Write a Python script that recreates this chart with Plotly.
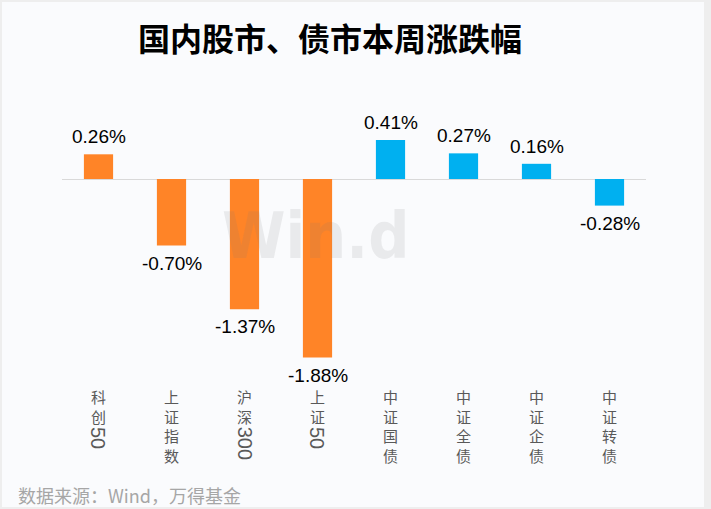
import plotly.graph_objects as go

categories = ["科创50", "上证指数", "沪深300", "上证50", "中证国债", "中证全债", "中证企债", "中证转债"]
values = [0.26, -0.70, -1.37, -1.88, 0.41, 0.27, 0.16, -0.28]
colors = ["#FF8427"] * 4 + ["#00B0F0"] * 4
title_text = "国内股市、债市本周涨跌幅"
source_text = "数据来源：Wind，万得基金"

W, H = 711, 509
L, R, T, B = 62, 65, 122, 140
PW, PH = W - L - R, H - T - B


def px2x(px):
    return (px - L) / PW


def py2y(py):
    return (H - B - py) / PH


fig = go.Figure()
fig.add_trace(go.Bar(
    x=categories, y=values, marker=dict(color=colors, line=dict(width=0)),
    width=0.4, hoverinfo="skip"))

ann = []
# value labels
for c, v in zip(categories, values):
    ann.append(dict(
        x=c, y=v, xref="x", yref="y", text=f"{v:.2f}%", showarrow=False,
        yanchor="bottom" if v >= 0 else "top", yshift=5 if v >= 0 else -5,
        font=dict(family="Liberation Sans, Arial", size=19, color="#000000")))

# vertical tick labels: stacked CJK characters, digits rotated below
fs = 15
line_h = 1.3 * fs
top0 = 386
for c in categories:
    cjk = "".join(ch for ch in c if not ch.isdigit())
    digits = "".join(ch for ch in c if ch.isdigit())
    ann.append(dict(x=c, xref="x", y=py2y(top0 - 2), yref="paper", text="<br>".join(cjk),
                    showarrow=False, yanchor="top", xanchor="center",
                    font=dict(family="Noto Sans CJK SC", size=fs, color="#595959")))
    if digits:
        start = top0 + len(cjk) * line_h + 1
        length = len(digits) * 11.5
        cy = start + length / 2
        ann.append(dict(x=c, xref="x", y=py2y(cy), yref="paper", text=digits, showarrow=False,
                        textangle=90, yanchor="middle", xanchor="center",
                        font=dict(family="Liberation Sans, Arial", size=20, color="#595959")))

# title
ann.append(dict(x=px2x(330), y=py2y(37), xref="paper", yref="paper", text=f"<b>{title_text}</b>",
                showarrow=False, xanchor="center", yanchor="middle",
                font=dict(family="Noto Sans CJK SC", size=32, color="#000000")))
# source
ann.append(dict(x=px2x(16), y=py2y(495), xref="paper", yref="paper", text=source_text,
                showarrow=False, xanchor="left", yanchor="middle",
                font=dict(family="Noto Sans CJK SC", size=18, color="#A6A6A6")))
# watermark
ann.append(dict(x=px2x(315), y=py2y(236), xref="paper", yref="paper", text="<b>Win.d</b>",
                showarrow=False, xanchor="center", yanchor="middle",
                font=dict(family="DejaVu Sans Condensed, Liberation Sans", size=64,
                          color="rgba(120,120,120,0.13)")))

fig.update_layout(
    width=W, height=H,
    margin=dict(l=L, r=R, t=T, b=B, pad=0),
    paper_bgcolor="#EEEEEE",
    plot_bgcolor="rgba(0,0,0,0)",
    showlegend=False,
    annotations=ann,
    shapes=[dict(type="rect", xref="paper", yref="paper", layer="below",
                 x0=px2x(2), x1=px2x(704), y0=py2y(507), y1=py2y(2),
                 fillcolor="#FAFBFD", line=dict(width=0))],
    xaxis=dict(showticklabels=False, showgrid=False, zeroline=False, showline=False,
               range=[-0.5, len(categories) - 0.5]),
    yaxis=dict(showticklabels=False, showgrid=False, zeroline=True, zerolinecolor="#D9D9D9",
               zerolinewidth=1, showline=False, range=[-2.0, 0.6]),
)

fig.write_html("out.html", config={"displayModeBar": False},
               post_script="document.body.style.margin='0';")
